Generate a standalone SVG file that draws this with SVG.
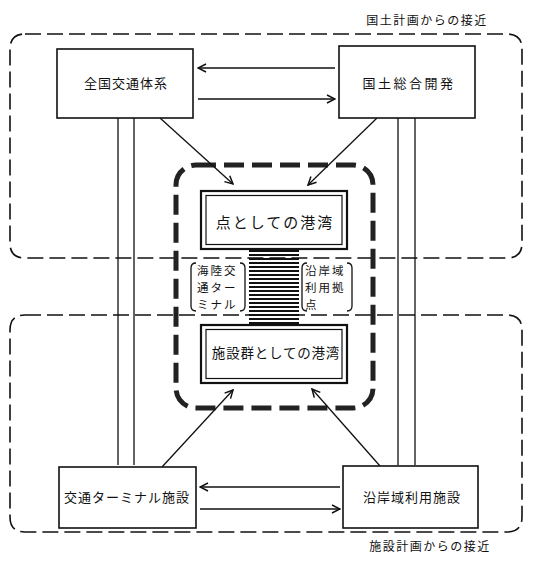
<svg xmlns="http://www.w3.org/2000/svg" width="536" height="562" viewBox="0 0 536 562">
<defs>
<style>
text{font-family:"Noto Sans CJK JP","Noto Sans",sans-serif;fill:#111;}
.box{fill:#fff;stroke:#111;stroke-width:1.6;}
.region{fill:none;stroke:#111;stroke-width:1.6;stroke-dasharray:16 6;}
.inner{fill:none;stroke:#222;stroke-width:5;stroke-dasharray:20 8;}
.ln{stroke:#111;stroke-width:1.3;fill:none;}
.hatch{stroke:#111;stroke-width:2;}
.lbl{font-size:13px;letter-spacing:1px;}
.brk{fill:none;stroke:#111;stroke-width:1.3;}
.bt{font-size:11.5px;letter-spacing:2px;}
</style>
<marker id="ah" viewBox="0 0 10 10" refX="9" refY="5" markerWidth="10" markerHeight="10" markerUnits="userSpaceOnUse" orient="auto">
<path d="M1,1 L9,5 L1,9" fill="none" stroke="#111" stroke-width="1.5"/>
</marker>
</defs>
<rect width="536" height="562" fill="#fff"/>

<g id="region-top">
<path class="region" d="M25,34 H507 Q522,34 522,49 V243 Q522,258 507,258 H25 Q10,258 10,243 V49 Q10,34 25,34 Z"/>
<text x="427" y="25" text-anchor="middle" style="font-size:12px;letter-spacing:1.5px">国土計画からの接近</text>
</g>
<g id="region-bottom">
<path class="region" d="M25,315 H507 Q522,315 522,330 V517 Q522,532 507,532 H25 Q10,532 10,517 V330 Q10,315 25,315 Z"/>
<text x="430" y="551" text-anchor="middle" style="font-size:12px;letter-spacing:1.5px">施設計画からの接近</text>
</g>

<g id="inner-port">
<rect class="inner" x="176" y="165" width="197" height="243" rx="20"/>
</g>

<g id="connectors">
<line class="ln" x1="335" y1="68" x2="198" y2="68" marker-end="url(#ah)"/>
<line class="ln" x1="198" y1="99" x2="335" y2="99" marker-end="url(#ah)"/>
<line class="ln" x1="340" y1="487" x2="200" y2="487" marker-end="url(#ah)"/>
<line class="ln" x1="200" y1="509" x2="340" y2="509" marker-end="url(#ah)"/>
<line class="ln" x1="118" y1="118" x2="118" y2="465"/>
<line class="ln" x1="134" y1="118" x2="134" y2="465"/>
<line class="ln" x1="398" y1="118" x2="398" y2="465"/>
<line class="ln" x1="415" y1="118" x2="415" y2="465"/>
<line class="ln" x1="160" y1="118" x2="233" y2="184" marker-end="url(#ah)"/>
<line class="ln" x1="377" y1="118" x2="308" y2="185" marker-end="url(#ah)"/>
<line class="ln" x1="162" y1="467" x2="233" y2="390" marker-end="url(#ah)"/>
<line class="ln" x1="380" y1="466" x2="312" y2="389" marker-end="url(#ah)"/>
</g>

<g id="hatch">
<line class="hatch" x1="249" y1="251" x2="299" y2="251"/>
<line class="hatch" x1="249" y1="255" x2="299" y2="255"/>
<line class="hatch" x1="249" y1="259" x2="299" y2="259"/>
<line class="hatch" x1="249" y1="263" x2="299" y2="263"/>
<line class="hatch" x1="249" y1="267" x2="299" y2="267"/>
<line class="hatch" x1="249" y1="271" x2="299" y2="271"/>
<line class="hatch" x1="249" y1="275" x2="299" y2="275"/>
<line class="hatch" x1="249" y1="279" x2="299" y2="279"/>
<line class="hatch" x1="249" y1="283" x2="299" y2="283"/>
<line class="hatch" x1="249" y1="287" x2="299" y2="287"/>
<line class="hatch" x1="249" y1="291" x2="299" y2="291"/>
<line class="hatch" x1="249" y1="295" x2="299" y2="295"/>
<line class="hatch" x1="249" y1="299" x2="299" y2="299"/>
<line class="hatch" x1="249" y1="303" x2="299" y2="303"/>
<line class="hatch" x1="249" y1="307" x2="299" y2="307"/>
<line class="hatch" x1="249" y1="311" x2="299" y2="311"/>
<line class="hatch" x1="249" y1="315" x2="299" y2="315"/>
<line class="hatch" x1="249" y1="319" x2="299" y2="319"/>
<line class="hatch" x1="249" y1="323" x2="299" y2="323"/>
</g>

<g id="node-zenkoku">
<rect class="box" x="57" y="49" width="136" height="69"/>
<text class="lbl" x="126" y="88" text-anchor="middle">全国交通体系</text>
</g>
<g id="node-kokudo">
<rect class="box" x="339" y="46" width="136" height="72"/>
<text class="lbl" x="409" y="88" text-anchor="middle" style="letter-spacing:2.5px">国土総合開発</text>
</g>
<g id="node-terminal">
<rect class="box" x="59" y="467" width="137" height="61"/>
<text class="lbl" x="127" y="502" text-anchor="middle">交通ターミナル施設</text>
</g>
<g id="node-engan">
<rect class="box" x="343" y="466" width="135" height="62"/>
<text class="lbl" x="412" y="502" text-anchor="middle">沿岸域利用施設</text>
</g>

<g id="node-point-port">
<rect x="201" y="191" width="146" height="58" fill="#fff" stroke="#111" stroke-width="2.2"/>
<rect x="206" y="195.5" width="136" height="49" fill="none" stroke="#111" stroke-width="1.2"/>
<text x="275" y="228" text-anchor="middle" style="font-size:15px;letter-spacing:2px">点としての港湾</text>
</g>
<g id="node-facility-port">
<rect x="201" y="325" width="146" height="58" fill="#fff" stroke="#111" stroke-width="2.2"/>
<rect x="206" y="329.5" width="136" height="49" fill="none" stroke="#111" stroke-width="1.2"/>
<text x="276" y="358" text-anchor="middle" style="font-size:13.5px;letter-spacing:0.8px">施設群としての港湾</text>
</g>

<g id="label-terminal">
<rect x="190" y="262" width="56" height="50" fill="#fff"/>
<path class="brk" d="M196,263 Q191,263 191,268 V306 Q191,311 196,311"/>
<path class="brk" d="M240,263 Q245,263 245,268 V306 Q245,311 240,311"/>
<text class="bt" x="197" y="275">海陸交</text>
<text class="bt" x="197" y="292">通ター</text>
<text class="bt" x="197" y="309">ミナル</text>
</g>
<g id="label-engan">
<rect x="301" y="262" width="53" height="50" fill="#fff"/>
<path class="brk" d="M307,263 Q302,263 302,268 V306 Q302,311 307,311"/>
<path class="brk" d="M347,263 Q352,263 352,268 V306 Q352,311 347,311"/>
<text class="bt" x="305" y="275">沿岸域</text>
<text class="bt" x="305" y="292">利用拠</text>
<text class="bt" x="305" y="309">点</text>
</g>
</svg>
